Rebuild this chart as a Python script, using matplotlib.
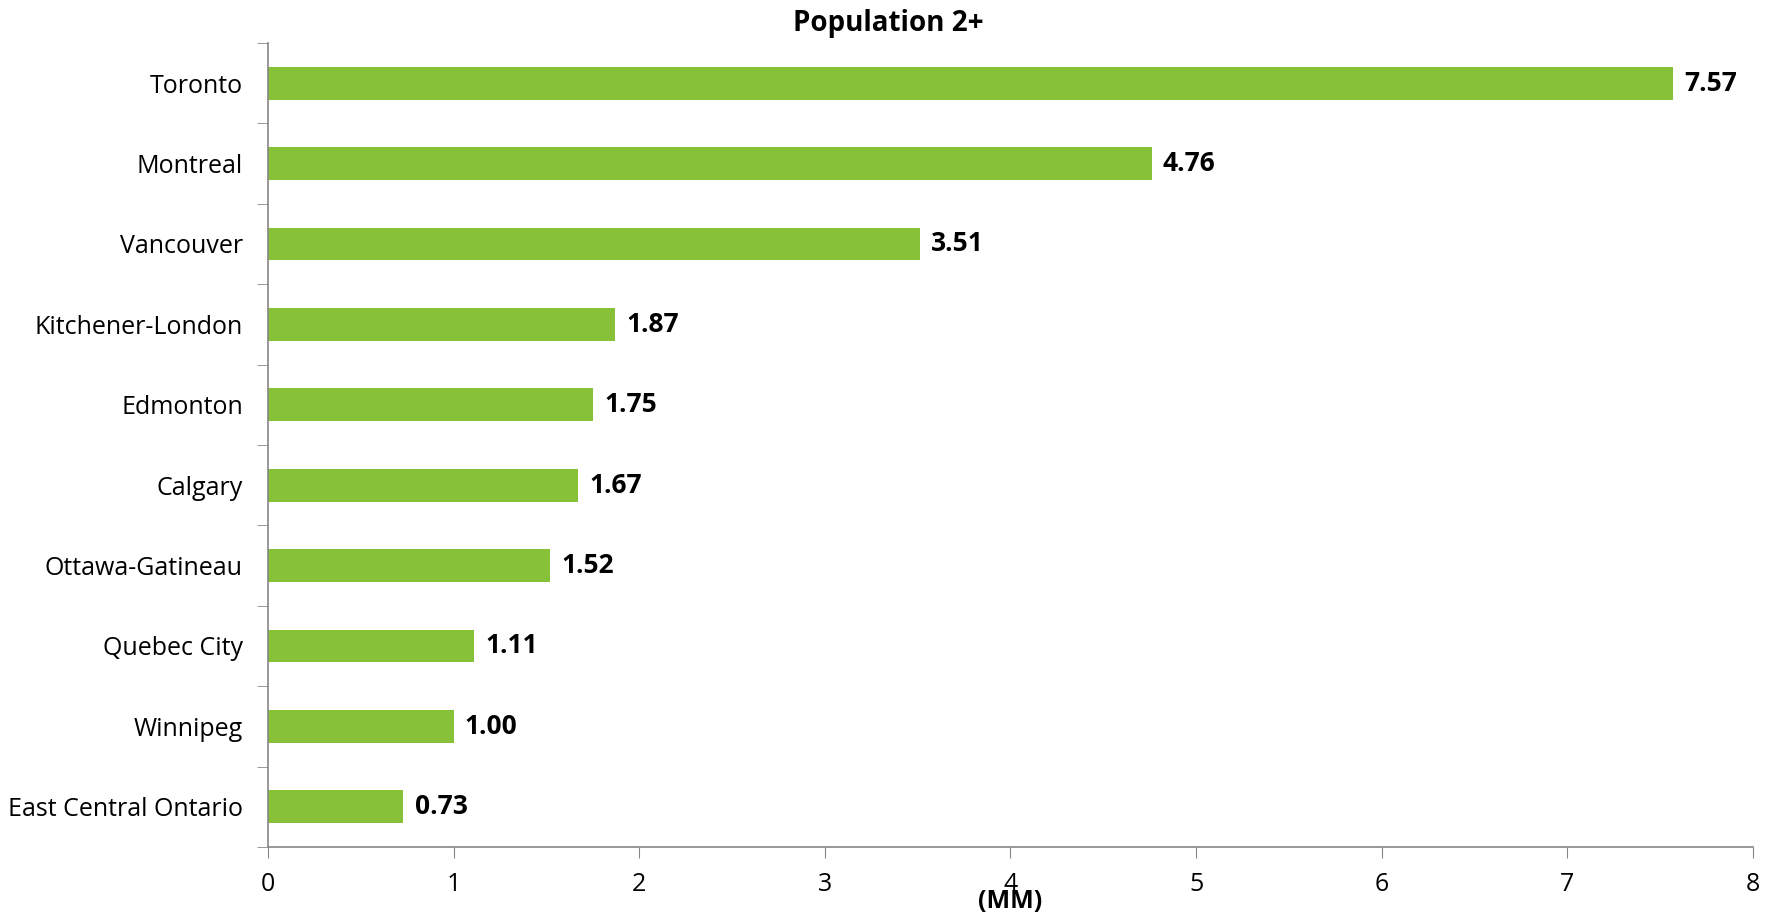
import matplotlib
matplotlib.use('Agg')
import matplotlib.pyplot as plt
import numpy as np

plt.rcParams['font.family'] = ['Open Sans', 'DejaVu Sans']

# data
cities = ['Toronto', 'Montreal', 'Vancouver', 'Kitchener-London', 'Edmonton',
          'Calgary', 'Ottawa-Gatineau', 'Quebec City', 'Winnipeg',
          'East Central Ontario']
values = [7.57, 4.76, 3.51, 1.87, 1.75, 1.67, 1.52, 1.11, 1.00, 0.73]
xticks = [0, 1, 2, 3, 4, 5, 6, 7, 8]

fig = plt.figure(figsize=(17.77, 9.13), dpi=100)
ax = fig.add_axes([0.1508, 0.0723, 0.8357, 0.8806])

y = np.arange(len(cities))[::-1]
ax.barh(y, values, height=0.41, color='#86C137', edgecolor='none')

for yi, v in zip(y, values):
    ax.text(v + 0.06, yi, '%.2f' % v, va='center', ha='left',
            fontsize=19, fontweight='bold', color='black')

ax.set_xlim(0, 8)
ax.set_ylim(-0.5, len(cities) - 0.5)
ax.set_xticks(xticks)
ax.set_xticklabels([str(t) for t in xticks], fontsize=18)

# category labels at centres, tick marks on boundaries
ax.set_yticks(y)
ax.set_yticklabels(cities, fontsize=18)
ax.tick_params(axis='y', which='major', length=0, pad=18)
ax.set_yticks(np.arange(-0.5, len(cities)), minor=True)
ax.tick_params(axis='y', which='minor', length=8, color='#868686', direction='out')
ax.tick_params(axis='x', length=8, color='#868686', direction='out', pad=10)

for s in ['top', 'right']:
    ax.spines[s].set_visible(False)
for s in ['left', 'bottom']:
    ax.spines[s].set_color('#868686')
    ax.spines[s].set_linewidth(1.2)

ax.set_xlabel('(MM)', fontsize=18, fontweight='bold')
ax.xaxis.set_label_coords(0.5, -0.052)
fig.suptitle('Population 2+', fontsize=20, fontweight='bold', y=0.99)

fig.savefig('out.png', dpi=100)
